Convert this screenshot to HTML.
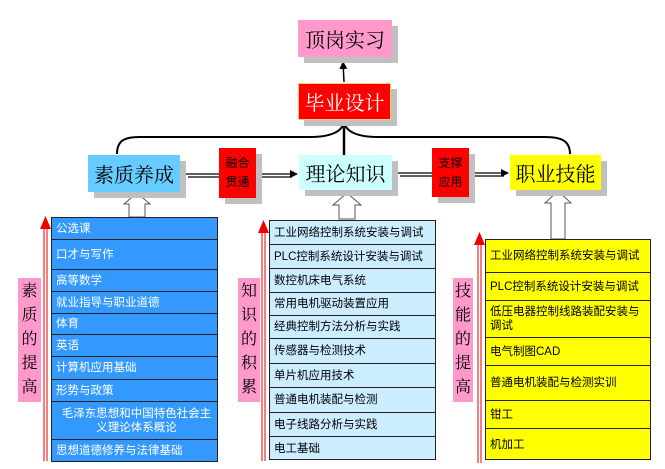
<!DOCTYPE html>
<html><head><meta charset="utf-8"><style>
*{margin:0;padding:0;box-sizing:border-box}
body{width:665px;height:469px;background:#fff;position:relative;overflow:hidden;font-family:"Liberation Sans","Noto Sans CJK SC",sans-serif}
.a{position:absolute}
.box{position:absolute;display:flex;align-items:center;justify-content:center;box-shadow:6px 6px 0 #c0c0c0}
.big{font-size:20px;color:#000;font-family:"Liberation Serif","Noto Serif CJK SC",serif}
.sm{font-size:12px;line-height:19px;text-align:center;flex-direction:column;color:#000}
.list{position:absolute;border:1.5px solid #222}
.list div{border-bottom:1.5px solid #222;font-size:11.5px;padding-left:4px;display:flex;align-items:center;line-height:14px}
.list div:last-child{border-bottom:none}
.pk{position:absolute;background:#ff99cc;font-size:16px;text-align:center;line-height:24px;color:#000;font-family:"Liberation Serif","Noto Serif CJK SC",serif}
</style></head><body>
<svg class="a" style="left:0;top:0" width="665" height="469">
<defs><marker id="ar" markerWidth="8" markerHeight="8" refX="7" refY="4" orient="auto" markerUnits="userSpaceOnUse"><path d="M0,0L8,4L0,8z" fill="#000"/></marker></defs>
<line x1="344" y1="82" x2="343" y2="62" stroke="#000" stroke-width="1.5" marker-end="url(#ar)"/>
<path d="M117,154 C117,140 125,137 140,137 L310,137 C330,137 343,132 344,121 C345,132 358,137 378,137 L545,137 C560,137 570,140 570,154" fill="none" stroke="#000" stroke-width="2"/>
<line x1="344" y1="121" x2="344" y2="155" stroke="#000" stroke-width="2.5"/>
<line x1="186" y1="174" x2="297" y2="174" stroke="#000" stroke-width="1.2" marker-start="url(#ar)" marker-end="url(#ar)"/>
<line x1="188" y1="177" x2="292" y2="177" stroke="#000" stroke-width="1.2"/>
<line x1="396" y1="173" x2="508" y2="173" stroke="#000" stroke-width="1.2" marker-start="url(#ar)" marker-end="url(#ar)"/>
<line x1="400" y1="176" x2="504" y2="176" stroke="#000" stroke-width="1.2"/>
<path d="M129,217 L129,204 L124,204 L137,193 L150,204 L145,204 L145,217 Z" fill="#fff" stroke="#555"/>
<path d="M339,219 L339,205 L333,205 L347,193 L361,205 L355,205 L355,219 Z" fill="#fff" stroke="#555"/>
<path d="M551,239 L551,203 L545,203 L558,191 L571,203 L565,203 L565,239 Z" fill="#fff" stroke="#555"/>
<line x1="44" y1="228" x2="44" y2="461" stroke="#e00" stroke-width="1"/><line x1="47" y1="228" x2="47" y2="461" stroke="#e00" stroke-width="1"/><path d="M40,229 L45.5,216 L51,229z" fill="#e00"/>
<line x1="262" y1="232" x2="262" y2="461" stroke="#e00"/><line x1="265" y1="232" x2="265" y2="461" stroke="#e00"/><path d="M258,233 L263.5,220 L269,233z" fill="#e00"/>
<line x1="478" y1="244" x2="478" y2="463" stroke="#e00"/><line x1="481" y1="244" x2="481" y2="463" stroke="#e00"/><path d="M474,245 L479.5,232 L485,245z" fill="#e00"/>
</svg>
<div class="box big" style="left:298px;top:20px;width:94px;height:37px;background:#ff99cc">顶岗实习</div>
<div class="box big" style="left:298px;top:83px;width:93px;height:37px;background:#ff0000;color:#fff;border:1px solid #ffcc66">毕业设计</div>
<div class="box big" style="left:88px;top:155px;width:92px;height:37px;background:#66ccff">素质养成</div>
<div class="box sm" style="left:219px;top:148px;width:37px;height:50px;background:#ff0000">融合<br>贯通</div>
<div class="box big" style="left:299px;top:155px;width:93px;height:35px;background:#ccffff">理论知识</div>
<div class="box sm" style="left:432px;top:148px;width:37px;height:49px;background:#ff0000">支撑<br>应用</div>
<div class="box big" style="left:510px;top:155px;width:91px;height:35px;background:#ffff00">职业技能</div>

<div class="list" style="left:51px;top:217px;width:167px;height:245px;background:#3399ff;color:#fff">
<div style="height:22px">公选课</div><div style="height:30px">口才与写作</div><div style="height:22px">高等数学</div><div style="height:22px">就业指导与职业道德</div><div style="height:21px">体育</div><div style="height:22px">英语</div><div style="height:23px">计算机应用基础</div><div style="height:22px">形势与政策</div><div style="height:38px;text-align:center;justify-content:center">毛泽东思想和中国特色社会主<br>义理论体系概论</div><div style="height:21px">思想道德修养与法律基础</div>
</div>
<div class="list" style="left:269px;top:220px;width:167px;height:240px;background:#ccecff;color:#000">
<div style="height:24px">工业网络控制系统安装与调试</div><div style="height:24px">PLC控制系统设计安装与调试</div><div style="height:24px">数控机床电气系统</div><div style="height:23px">常用电机驱动装置应用</div><div style="height:23px">经典控制方法分析与实践</div><div style="height:25px">传感器与检测技术</div><div style="height:24px">单片机应用技术</div><div style="height:25px">普通电机装配与检测</div><div style="height:24px">电子线路分析与实践</div><div style="height:23px">电工基础</div>
</div>
<div class="list" style="left:485px;top:239px;width:166px;height:221px;background:#ffff00;color:#000">
<div style="height:33px">工业网络控制系统安装与调试</div><div style="height:28px">PLC控制系统设计安装与调试</div><div style="height:37px">低压电器控制线路装配安装与<br>调试</div><div style="height:28px">电气制图CAD</div><div style="height:35px">普通电机装配与检测实训</div><div style="height:28px">钳工</div><div style="height:31px">机加工</div>
</div>

<div class="pk" style="left:18px;top:278px;width:23px;height:124px;padding-top:2px">素<br>质<br>的<br>提<br>高</div>
<div class="pk" style="left:238px;top:278px;width:22px;height:124px;padding-top:2px">知<br>识<br>的<br>积<br>累</div>
<div class="pk" style="left:453px;top:278px;width:20px;height:124px;padding-top:2px">技<br>能<br>的<br>提<br>高</div>
</body></html>
